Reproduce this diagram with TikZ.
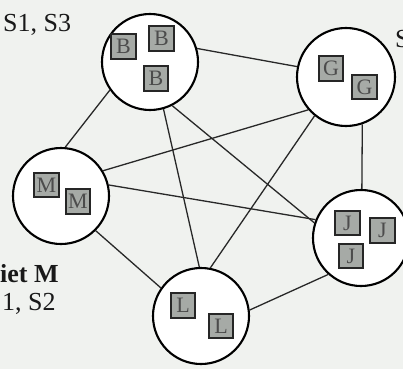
\documentclass[tikz,border=0pt]{standalone}
\usepackage{fontspec}
\setmainfont{Liberation Serif}
\definecolor{paper}{RGB}{240,242,239}
\definecolor{boxfill}{RGB}{166,170,166}
\definecolor{edgecol}{RGB}{40,40,40}
\begin{document}
\begin{tikzpicture}[x=1pt,y=-1pt,
  area/.style={circle,draw=black,line width=2.1pt,fill=white,minimum size=96pt,inner sep=0pt},
  unit/.style={rectangle,draw=black!85,line width=2.2pt,fill=boxfill,minimum size=24.5pt,inner sep=0pt,
    font=\fontsize{22}{22}\selectfont,text=black!70},
  link/.style={draw=edgecol,line width=1.3pt},
  label/.style={anchor=base west,inner sep=0pt,font=\fontsize{26}{30}\selectfont,text=black!90}]
\fill[paper] (0,0) rectangle (403,369);
\useasboundingbox (0,0) rectangle (403,369);
% areas
\node[area] (B) at (150,62) {};
\node[area,minimum size=98pt] (G) at (346,77) {};
\node[area] (M) at (61,196) {};
\node[area] (J) at (361,238) {};
\node[area] (L) at (201,316) {};
% connectors
\draw[link] (B.16) -- (G.168);
\draw[link] (B.215) -- (M.85);
\draw[link] (B.-74) -- (L.92);
\draw[link] (B.-63) -- (J.162);
\draw[link] (M.31) -- (G.221);
\draw[link] (M.13) -- (J.158);
\draw[link] (M.-45) -- (L.145);
\draw[link] (G.-71) -- (J.89);
\draw[link] (G.231) -- (L.79);
\draw[link] (L.7) -- (J.228);
% units
\node[unit] (b1) at (123.5,46.5) {B};
\node[unit] (b2) at (161.5,38.5) {B};
\node[unit] (b3) at (156,78.5) {B};
\node[unit] (g1) at (331,68.5) {G};
\node[unit] (g2) at (364.5,87) {G};
\node[unit] (m1) at (46.5,185) {M};
\node[unit] (m2) at (78,201.5) {M};
\node[unit] (j1) at (347.5,223) {J};
\node[unit] (j2) at (382.5,230.5) {J};
\node[unit] (j3) at (351,256) {J};
\node[unit] (l1) at (183,305.5) {L};
\node[unit] (l2) at (221,326) {L};
% texts
\node[label] (t1) at (3,32) {S1, S3};
\node[label,font=\fontsize{26}{30}\selectfont\bfseries] (t2) at (0,282) {iet M};
\node[label] (t3) at (2,310) {1, S2};
\node[label] (t4) at (395,47) {S};
\end{tikzpicture}
\end{document}
